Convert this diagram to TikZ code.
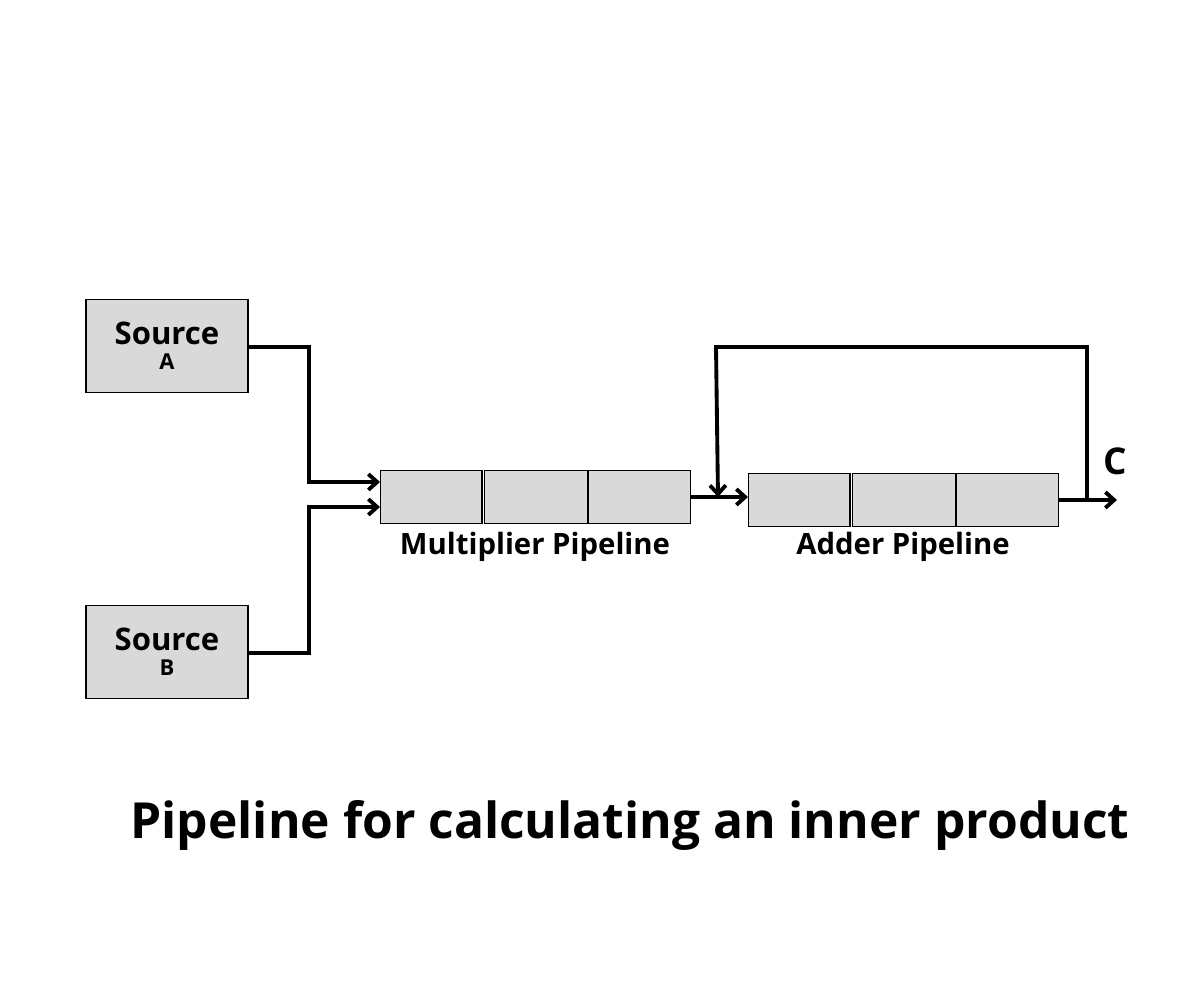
\documentclass[tikz,border=0pt]{standalone}
\usetikzlibrary{arrows.meta}
\usepackage{fontspec}
\setmainfont{Open Sans}
\begin{document}
\begin{tikzpicture}[x=0.02cm,y=-0.02cm,
  box/.style={draw=black,fill=gray!30,line width=0.8pt,minimum width=2.03cm,minimum height=1.06cm,inner sep=0pt,anchor=north west},
  src/.style={draw=black,fill=gray!30,line width=0.8pt,minimum width=3.24cm,minimum height=1.86cm,inner sep=0pt,align=center,font=\bfseries},
  wire/.style={line width=2.2pt},
  arr/.style={wire,-{Straight Barb[length=5pt,width=9pt]}}]
\useasboundingbox (0,0) rectangle (1200,1000);
\node[src] (A) at (167,346) {{\fontsize{17.7}{22}\selectfont Source}\\[2pt]{\fontsize{12.5}{16}\selectfont A}};
\node[src] (B) at (167,652) {{\fontsize{17.7}{22}\selectfont Source}\\[2pt]{\fontsize{12.5}{16}\selectfont B}};
\node[box] (m1) at (380,470) {};
\node[box,minimum width=2.06cm] (m2) at (484,470) {};
\node[box,minimum width=2.04cm] (m3) at (588,470) {};
\node[box] (a1) at (748,473) {};
\node[box,minimum width=2.06cm] (a2) at (852,473) {};
\node[box,minimum width=2.04cm] (a3) at (956,473) {};
\node[font=\bfseries\fontsize{16.7}{20}\selectfont] (ml) at (535,547) {Multiplier Pipeline};
\node[font=\bfseries\fontsize{16.7}{20}\selectfont] (al) at (903,547) {Adder Pipeline};
\node[font=\bfseries\fontsize{21}{24}\selectfont] (cl) at (1115,461) {C};
\node[font=\bfseries\fontsize{28.3}{32}\selectfont] (t) at (630,825) {Pipeline for calculating an inner product};
\coordinate (ain) at (380,482);
\coordinate (bin) at (380,507);
\coordinate (mout) at (690,497);
\coordinate (aout) at (1058,500);
\coordinate (cend) at (1117,500);
\coordinate (fb) at (1087,500);
\draw[arr] (A.east |- 0,347) -- (309,347) -- (309,482) -- (ain);
\draw[arr] (B.east |- 0,653) -- (309,653) -- (309,507) -- (bin);
\draw[arr] (mout) -- (a1.west |- mout);
\draw[arr] (aout) -- (cend);
\draw[arr] (fb) -- (1087,347) -- (716,347) -- (718,497);
\end{tikzpicture}
\end{document}
